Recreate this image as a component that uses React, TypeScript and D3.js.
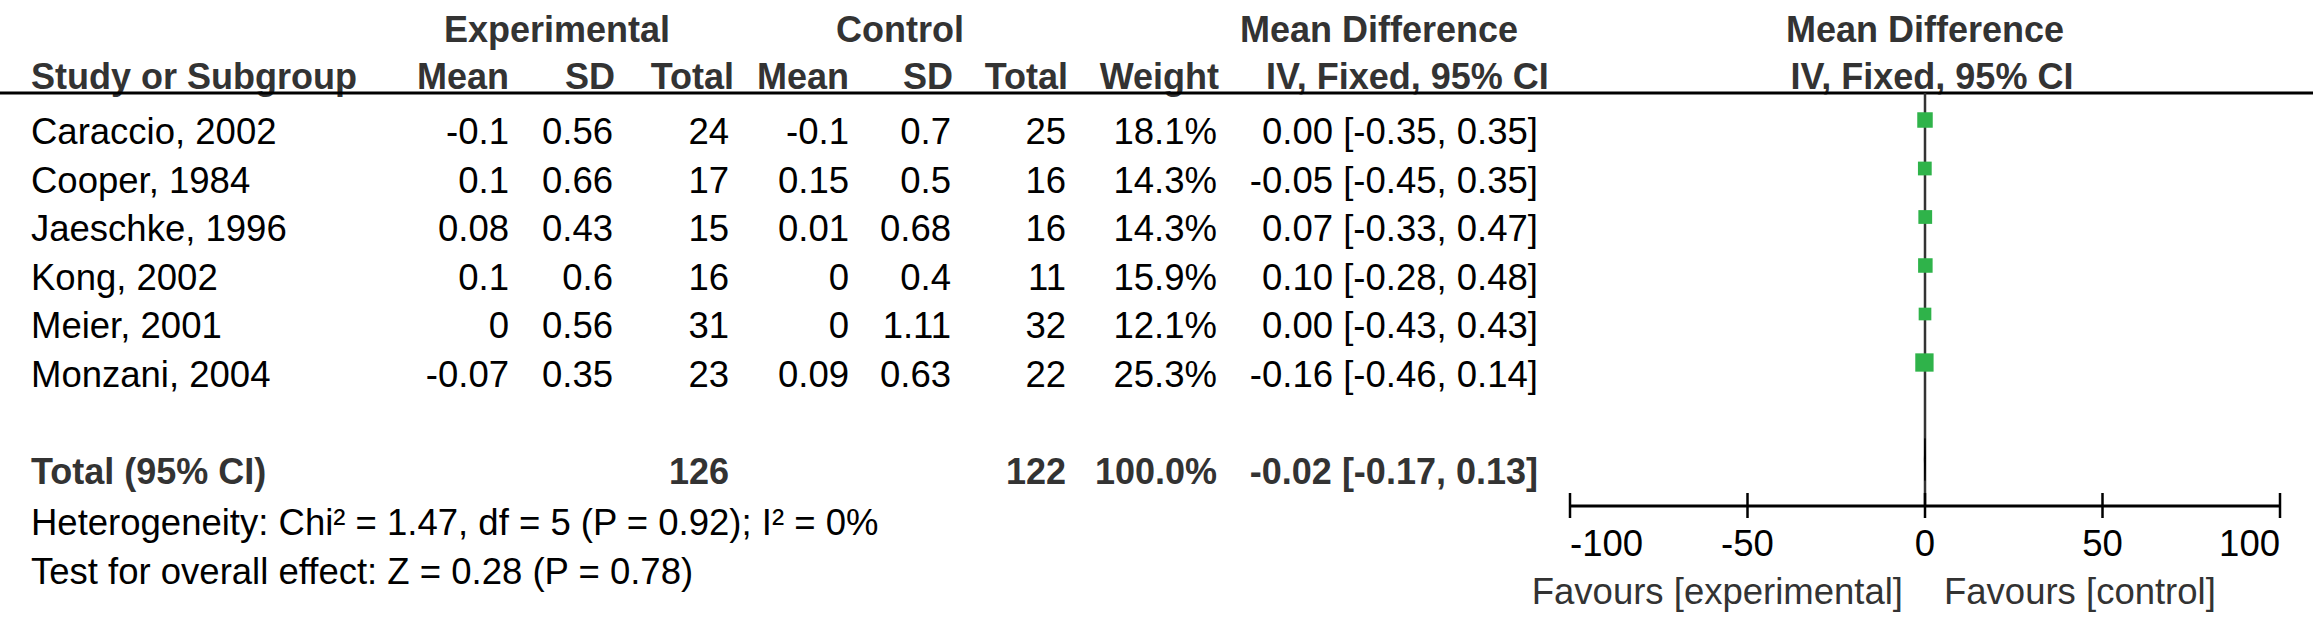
import * as d3 from "d3";

const width = 2313;
const height = 628;
const font = "'Liberation Sans', Arial, Helvetica, sans-serif";
const fontSize = 36.5;
const headColor = "#333333";
const boxColor = "#2fb34a";

const studies = ["Caraccio, 2002", "Cooper, 1984", "Jaeschke, 1996", "Kong, 2002", "Meier, 2001", "Monzani, 2004"];
const expMean = [-0.1, 0.1, 0.08, 0.1, 0, -0.07];
const expSD = [0.56, 0.66, 0.43, 0.6, 0.56, 0.35];
const expN = [24, 17, 15, 16, 31, 23];
const ctrlMean = [-0.1, 0.15, 0.01, 0, 0, 0.09];
const ctrlSD = [0.7, 0.5, 0.68, 0.4, 1.11, 0.63];
const ctrlN = [25, 16, 16, 11, 32, 22];
const weights = [18.1, 14.3, 14.3, 15.9, 12.1, 25.3];
const md = [0.0, -0.05, 0.07, 0.1, 0.0, -0.16];
const lower = [-0.35, -0.45, -0.33, -0.28, -0.43, -0.46];
const upper = [0.35, 0.35, 0.47, 0.48, 0.43, 0.14];

const totalExp = 126;
const totalCtrl = 122;
const totalWeight = 100.0;
const totalMd = -0.02;
const totalLower = -0.17;
const totalUpper = 0.13;

const heterogeneity = "Heterogeneity: Chi² = 1.47, df = 5 (P = 0.92); I² = 0%";
const overallTest = "Test for overall effect: Z = 0.28 (P = 0.78)";
const axisTicks = [-100, -50, 0, 50, 100];
const favourLeft = "Favours [experimental]";
const favourRight = "Favours [control]";

// column right edges
const col = {
  study: 31,
  expMean: 509,
  expSD: 613,
  expN: 729,
  ctrlMean: 849,
  ctrlSD: 951,
  ctrlN: 1066,
  weight: 1217,
  ci: 1538,
};

const fmtCi = (m: number, l: number, u: number) =>
  `${m.toFixed(2)} [${l.toFixed(2)}, ${u.toFixed(2)}]`;

const App = () => {
  const x = d3.scaleLinear([-100, 100], [1570, 2280]);
  // baseline of each table row
  const row = d3.scaleLinear([0, 5], [144, 386.5]);
  const boxSide = d3.scaleSqrt([0, 100], [0, 36.4]);
  const markOffset = 24;
  const headerLineY = 93;
  const axisY = 506;

  const right = (props: any) => ({ textAnchor: "end", ...props });

  const totalY = row(7);
  const diamondPts: [number, number][] = [
    [x(totalLower), totalY - markOffset],
    [x(totalMd), totalY - markOffset - 21],
    [x(totalUpper), totalY - markOffset],
    [x(totalMd), totalY - markOffset + 21],
  ];

  return (
    <svg
      width={width}
      height={height}
      style={{ position: "absolute", left: 0, top: 0, background: "#fff" }}
      fontFamily={font}
      fontSize={fontSize}
    >
      <rect width={width} height={height} fill="#fff" />
      {/* header */}
      <g fontWeight="bold" fill={headColor} fontSize={36}>
        <text x={557} y={42} textAnchor="middle">Experimental</text>
        <text x={900} y={42} textAnchor="middle">Control</text>
        <text x={1379} y={42} textAnchor="middle">Mean Difference</text>
        <text x={1925} y={42} textAnchor="middle">Mean Difference</text>
        <text x={col.study} y={89}>Study or Subgroup</text>
        <text {...right({ x: col.expMean, y: 89 })}>Mean</text>
        <text {...right({ x: col.expSD + 2, y: 89 })}>SD</text>
        <text {...right({ x: col.expN + 5, y: 89 })}>Total</text>
        <text {...right({ x: col.ctrlMean, y: 89 })}>Mean</text>
        <text {...right({ x: col.ctrlSD + 2, y: 89 })}>SD</text>
        <text {...right({ x: col.ctrlN + 2, y: 89 })}>Total</text>
        <text {...right({ x: col.weight + 2, y: 89 })}>Weight</text>
        <text x={1266} y={89}>IV, Fixed, 95% CI</text>
        <text x={1932} y={89} textAnchor="middle">IV, Fixed, 95% CI</text>
      </g>
      <line x1={0} x2={width} y1={headerLineY} y2={headerLineY} stroke="#000" strokeWidth={3} />

      {/* study rows */}
      <g fill="#000">
        {studies.map((s, i) => (
          <g key={s}>
            <text x={col.study} y={row(i)}>{s}</text>
            <text {...right({ x: col.expMean, y: row(i) })}>{String(expMean[i])}</text>
            <text {...right({ x: col.expSD, y: row(i) })}>{String(expSD[i])}</text>
            <text {...right({ x: col.expN, y: row(i) })}>{expN[i]}</text>
            <text {...right({ x: col.ctrlMean, y: row(i) })}>{String(ctrlMean[i])}</text>
            <text {...right({ x: col.ctrlSD, y: row(i) })}>{String(ctrlSD[i])}</text>
            <text {...right({ x: col.ctrlN, y: row(i) })}>{ctrlN[i]}</text>
            <text {...right({ x: col.weight, y: row(i) })}>{weights[i].toFixed(1)}%</text>
            <text {...right({ x: col.ci, y: row(i) })}>{fmtCi(md[i], lower[i], upper[i])}</text>
          </g>
        ))}
      </g>

      {/* total row */}
      <g fontWeight="bold" fill={headColor} fontSize={36}>
        <text x={col.study} y={totalY}>Total (95% CI)</text>
        <text {...right({ x: col.expN, y: totalY })}>{totalExp}</text>
        <text {...right({ x: col.ctrlN, y: totalY })}>{totalCtrl}</text>
        <text {...right({ x: col.weight, y: totalY })}>{totalWeight.toFixed(1)}%</text>
        <text {...right({ x: col.ci, y: totalY })}>{fmtCi(totalMd, totalLower, totalUpper)}</text>
      </g>
      <text x={col.study} y={535} fill="#000">{heterogeneity}</text>
      <text x={col.study} y={584} fill="#000">{overallTest}</text>

      {/* forest plot */}
      <line x1={x(0)} x2={x(0)} y1={headerLineY} y2={axisY} stroke="#333" strokeWidth={2.5} />
      {studies.map((s, i) => {
        const cy = row(i) - markOffset;
        const side = boxSide(weights[i]);
        return (
          <g key={s}>
            <line x1={x(lower[i])} x2={x(upper[i])} y1={cy} y2={cy} stroke="#000" strokeWidth={1.5} />
            <rect x={x(md[i]) - side / 2} y={cy - side / 2} width={side} height={side} fill={boxColor} />
          </g>
        );
      })}
      <path d={d3.line()(diamondPts) + "Z"} fill="#000" stroke="#000" strokeWidth={1} />

      {/* axis */}
      <line x1={x(-100)} x2={x(100)} y1={axisY} y2={axisY} stroke="#000" strokeWidth={3} />
      {axisTicks.map((t, i) => (
        <g key={t}>
          <line x1={x(t)} x2={x(t)} y1={axisY - 13} y2={axisY + 12} stroke="#000" strokeWidth={2.5} />
          <text
            x={x(t)}
            y={556}
            fill="#000"
            textAnchor={i === 0 ? "start" : i === axisTicks.length - 1 ? "end" : "middle"}
          >
            {t}
          </text>
        </g>
      ))}
      <text x={x(0) - 22} y={604} textAnchor="end" fill={headColor}>{favourLeft}</text>
      <text x={x(0) + 19} y={604} fill={headColor}>{favourRight}</text>
    </svg>
  );
};

export default App;
